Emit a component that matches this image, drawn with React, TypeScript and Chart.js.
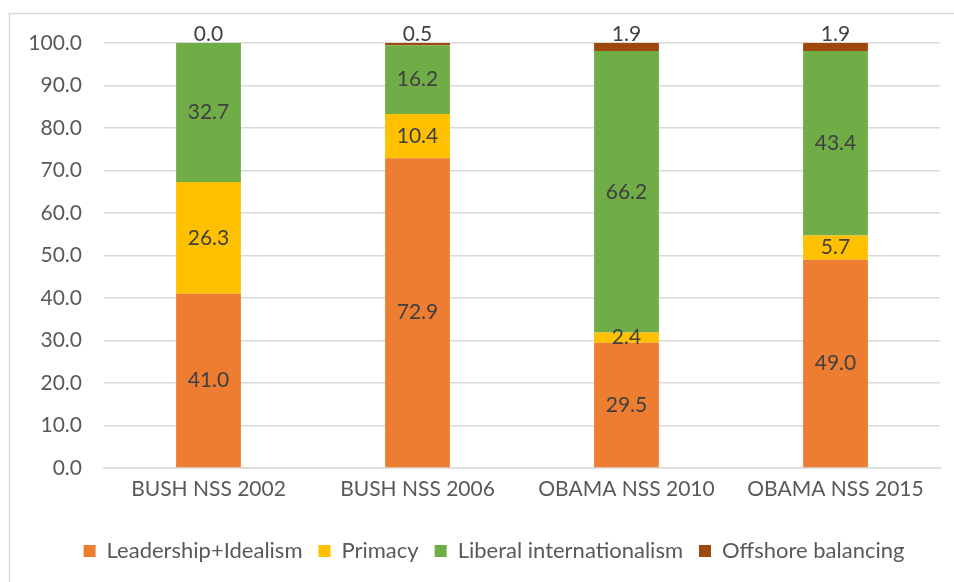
import React, { useEffect, useRef } from "react";
import { Chart, registerables } from "chart.js";

Chart.register(...registerables);

const categories = ["BUSH NSS 2002", "BUSH NSS 2006", "OBAMA NSS 2010", "OBAMA NSS 2015"];
const leadershipIdealism = [41.0, 72.9, 29.5, 49.0];
const primacy = [26.3, 10.4, 2.4, 5.7];
const liberalInternationalism = [32.7, 16.2, 66.2, 43.4];
const offshoreBalancing = [0.0, 0.5, 1.9, 1.9];

const FONT = "Lato, 'Open Sans', sans-serif";
const SIZE = 21;

const framePlugin = {
  id: "frame",
  beforeDraw(chart: any) {
    const ctx = chart.ctx;
    ctx.save();
    ctx.fillStyle = "#ffffff";
    ctx.fillRect(0, 0, chart.width, chart.height);
    ctx.strokeStyle = "#D9D9D9";
    ctx.lineWidth = 1.5;
    ctx.strokeRect(9.5, 13.5, chart.width + 20, chart.height + 20);
    ctx.restore();
  },
};

// Center the legend under the plot area rather than the whole canvas.
const legendShiftPlugin = {
  id: "legendShift",
  afterLayout(chart: any) {
    const legend = chart.legend;
    if (!legend) return;
    const shift = (chart.chartArea.left + chart.chartArea.right) / 2 - (legend.left + legend.right) / 2 - 28;
    legend.left += shift;
    legend.right += shift;
  },
};

const valueLabelPlugin = {
  id: "valueLabels",
  afterDatasetsDraw(chart: any) {
    const ctx = chart.ctx;
    ctx.save();
    ctx.font = `${SIZE}px ${FONT}`;
    ctx.fillStyle = "#404040";
    ctx.textAlign = "center";
    chart.data.datasets.forEach((ds: any, di: number) => {
      const meta = chart.getDatasetMeta(di);
      meta.data.forEach((bar: any, i: number) => {
        const v = ds.data[i] as number;
        const text = v.toFixed(1);
        if (di === 3) {
          ctx.textBaseline = "bottom";
          ctx.fillText(text, bar.x, bar.y + 2);
        } else {
          ctx.textBaseline = "middle";
          ctx.fillText(text, bar.x, (bar.y + bar.base) / 2);
        }
      });
    });
    ctx.restore();
  },
};

export default function App() {
  const ref = useRef<HTMLCanvasElement | null>(null);

  useEffect(() => {
    if (!ref.current) return;
    const chart = new Chart(ref.current, {
      type: "bar",
      data: {
        labels: categories,
        datasets: [
          { label: "Leadership+Idealism", data: leadershipIdealism, backgroundColor: "#ED7D31" },
          { label: "Primacy", data: primacy, backgroundColor: "#FFC000" },
          { label: "Liberal internationalism", data: liberalInternationalism, backgroundColor: "#70AD47" },
          { label: "Offshore balancing", data: offshoreBalancing, backgroundColor: "#9E480E" },
        ],
      },
      options: {
        animation: false,
        responsive: false,
        maintainAspectRatio: false,
        layout: { padding: { left: 10, right: 14, top: 43, bottom: 10 } },
        datasets: {
          bar: { categoryPercentage: 1, barPercentage: 0.31, borderWidth: 0 },
        },
        plugins: {
          legend: {
            position: "bottom",
            labels: {
              boxWidth: 12,
              boxHeight: 12,
              padding: 16,
              color: "#595959",
              font: { family: FONT, size: 22 },
            },
          },
          tooltip: { enabled: false },
        },
        scales: {
          x: {
            stacked: true,
            afterFit(scale: any) {
              scale.height = 56;
            },
            grid: { display: false },
            border: { color: "#D9D9D9", width: 1.5 },
            ticks: { color: "#595959", font: { family: FONT, size: SIZE }, padding: 1 },
          },
          y: {
            stacked: true,
            min: 0,
            max: 100,
            afterFit(scale: any) {
              scale.width = 94;
            },
            grid: { color: "#D9D9D9", lineWidth: 1.5, drawTicks: false },
            border: { display: false },
            ticks: {
              stepSize: 10,
              color: "#595959",
              font: { family: FONT, size: SIZE },
              padding: 22,
              callback: (v: any) => Number(v).toFixed(1),
            },
          },
        },
      },
      plugins: [framePlugin, legendShiftPlugin, valueLabelPlugin],
    });
    return () => chart.destroy();
  }, []);

  return (
    <div style={{ position: "fixed", left: 0, top: 0, width: 954, height: 582 }}>
      <canvas ref={ref} width={954} height={582} style={{ display: "block" }} />
    </div>
  );
}
